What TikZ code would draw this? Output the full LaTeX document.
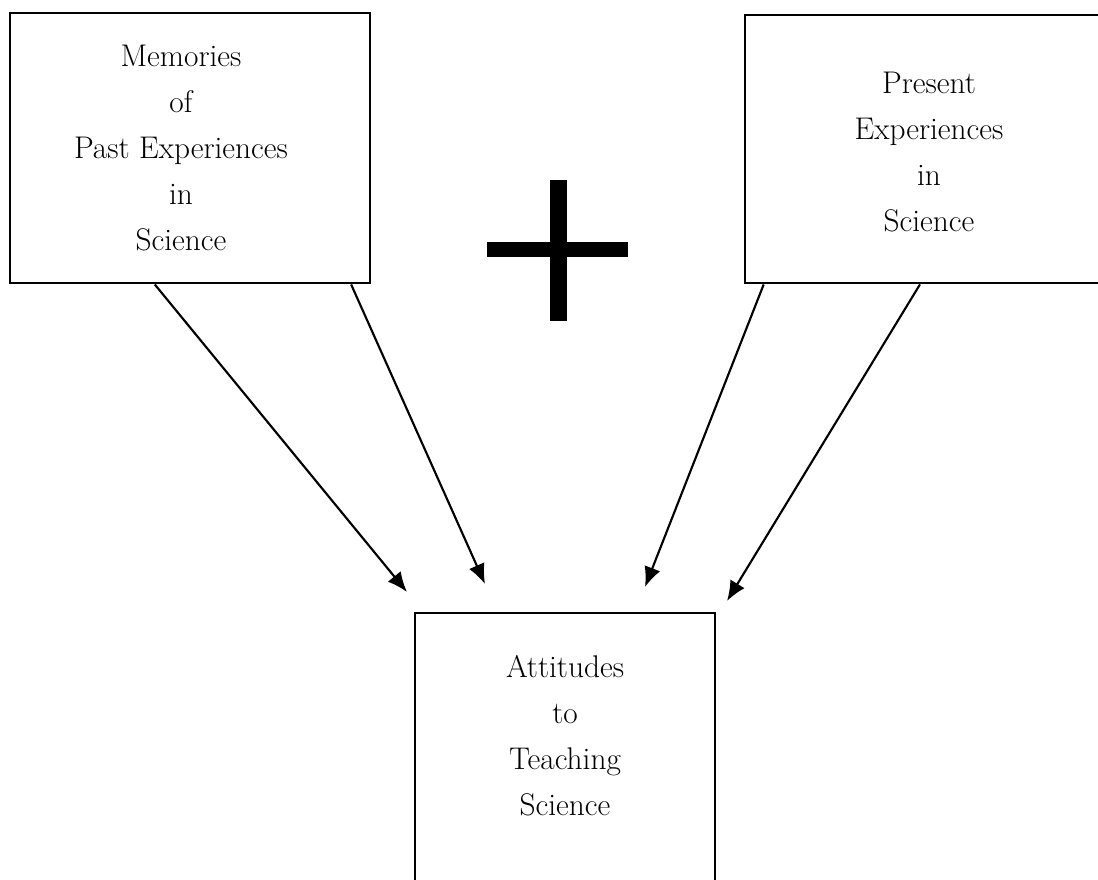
\documentclass[tikz,border=0pt]{standalone}
\usepackage{amsmath}
\usepackage{tikz}
\usetikzlibrary{calc,arrows.meta}

\tikzset{
  box/.style={draw, line width=2.2pt, inner sep=0pt},
  boxtext/.style={align=center, inner sep=0pt, font=\fontsize{23.5}{34.5}\selectfont},
  flow/.style={line width=1.6pt, -{Latex[length=15pt,width=12.5pt]}}
}

\begin{document}
\begin{tikzpicture}[x=0.75pt,y=0.75pt,yscale=-1,xscale=1]
        \useasboundingbox (0,0) rectangle (1098,880);
        \clip (0,0) rectangle (1098,880);

        %Shape: Rectangle [past]
        \node [box, minimum width=270pt, minimum height=202.5pt] (past) at (190,148) {};
        %Shape: Rectangle [present]
        \node [box, minimum width=277.5pt, minimum height=201pt] (present) at (930,149) {};
        %Shape: Rectangle [attitudes]
        \node [box, minimum width=225pt, minimum height=219pt] (attitudes) at (565,759) {};

        % Text Node
        \node [boxtext] (pasttext) at (181,148) {Memories\\of\\Past Experiences\\in\\Science};
        % Text Node
        \node [boxtext] (presenttext) at (929,152) {Present\\Experiences\\in\\Science};
        % Text Node
        \node [boxtext] (attitudestext) at (565,736) {Attitudes\\to\\Teaching\\Science};

        %Shape: Plus
        \fill (487,242) rectangle (628,257);
        \fill (550,180) rectangle (567,321);

        %Arrow tips
        \coordinate (tipa) at (407,592);
        \coordinate (tipb) at (485,584);
        \coordinate (tipc) at (645,587);
        \coordinate (tipd) at (727,601);

        %Straight Lines
        \draw [flow] ($(past.south west)!0.403!(past.south east)$) -- (tipa);
        \draw [flow] ($(past.south west)!0.944!(past.south east)$) -- (tipb);
        \draw [flow] ($(present.south west)!0.054!(present.south east)$) -- (tipc);
        \draw [flow] ($(present.south west)!0.473!(present.south east)$) -- (tipd);

\end{tikzpicture}
\end{document}
